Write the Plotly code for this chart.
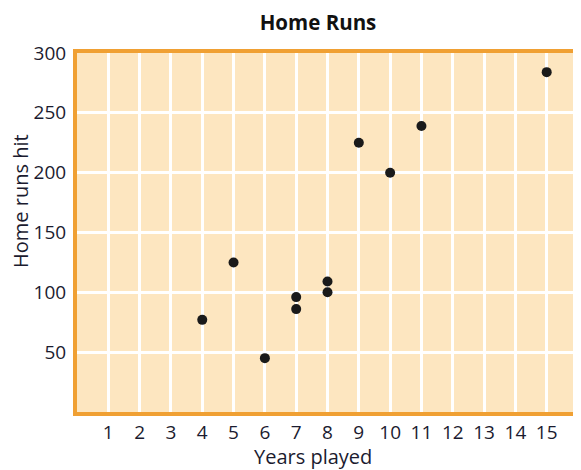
import plotly.graph_objects as go

years = [4, 5, 6, 7, 7, 8, 8, 9, 10, 11, 15]
home_runs = [77, 125, 45, 86, 96, 100, 109, 225, 200, 239, 284]
x_ticks = list(range(1, 16))
y_ticks = [50, 100, 150, 200, 250, 300]

# page has an 8px body margin; work in figure pixels = reference pixels - 8
OFF = 8
W, H = 573, 462
left_px, right_px, top_px, bottom_px = 77, 578, 53, 412   # plot box in reference pixels
l, r = left_px - OFF, W - (right_px - OFF)
t, b = top_px - OFF, H - (bottom_px - OFF)
pw, ph = W - l - r, H - t - b
def px(xp): return (xp - OFF - l) / pw
def py(yp): return (H - b - (yp - OFF)) / ph

fig = go.Figure()
fig.add_trace(go.Scatter(
    x=years, y=home_runs, mode="markers",
    marker=dict(color="#1a1a1a", size=10),
    hoverinfo="x+y", showlegend=False,
))

font_fam = "Open Sans, Noto Sans, sans-serif"
txt = "#1b1b2f"
fig.update_layout(
    width=W, height=H,
    margin=dict(l=l, r=r, t=t, b=b, autoexpand=False),
    paper_bgcolor="white",
    plot_bgcolor="#FDE6C0",
    font=dict(family=font_fam, color=txt, size=18),
    title=dict(text="<b>Home Runs</b>", x=(318 - OFF) / W, xref="container",
               y=1 - (23 - OFF) / H, yref="container",
               xanchor="center", yanchor="middle", font=dict(size=20.5, color="#111")),
    annotations=[
        dict(text="Years played", x=px(313), y=py(457), xref="paper", yref="paper",
             xanchor="center", yanchor="middle",
             showarrow=False, font=dict(size=20, color=txt)),
        dict(text="Home runs hit", x=px(20), y=py(201), xref="paper", yref="paper",
             xanchor="center", yanchor="middle",
             showarrow=False, textangle=-90, font=dict(size=20, color=txt)),
    ],
)

fig.update_xaxes(
    range=[0, 16], tickvals=x_ticks, ticktext=[str(v) for v in x_ticks],
    showgrid=True, gridcolor="white", gridwidth=3,
    showline=True, linecolor="#F0A033", linewidth=4, mirror=True,
    zeroline=False, ticks="", ticklabelstandoff=0, automargin=False,
    tickfont=dict(size=19, color=txt),
)
fig.update_yaxes(
    range=[0, 300], tickvals=y_ticks, ticktext=[str(v) for v in y_ticks],
    showgrid=True, gridcolor="white", gridwidth=3,
    showline=True, linecolor="#F0A033", linewidth=4, mirror=True,
    zeroline=False, ticks="", ticklabelstandoff=3, automargin=False,
    tickfont=dict(size=19, color=txt),
)
fig.write_html("out.html")
